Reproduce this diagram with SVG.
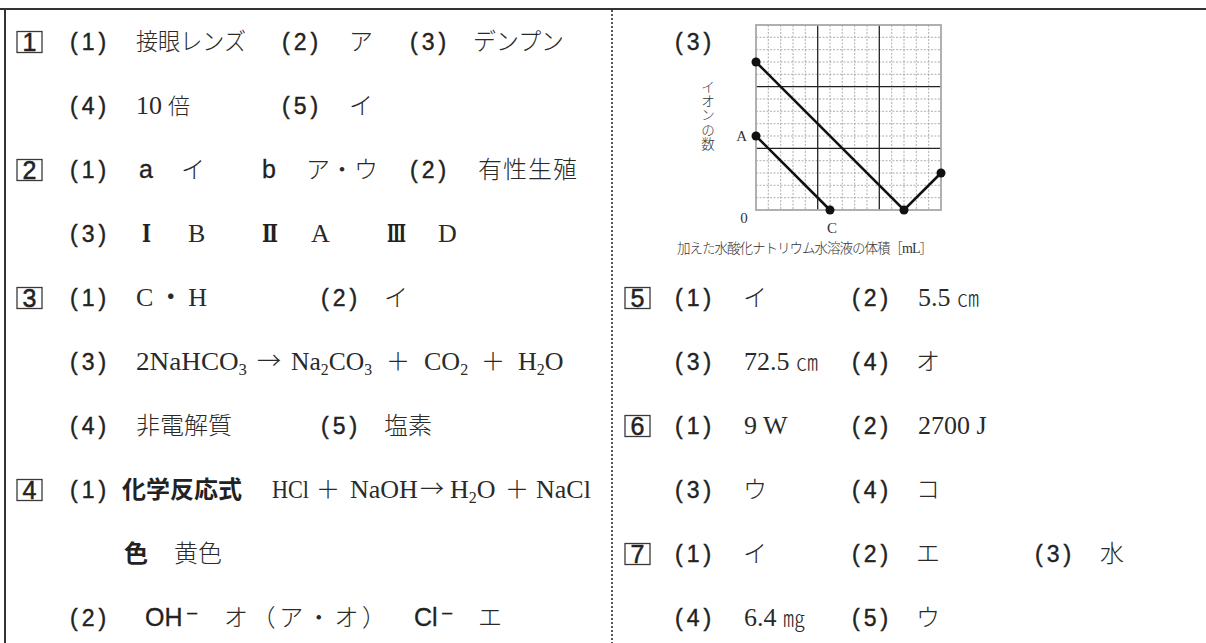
<svg xmlns="http://www.w3.org/2000/svg" width="1206" height="643" viewBox="0 0 1206 643">
<style>
.lab{font-family:"Liberation Sans",Arial,sans-serif;font-size:23px;letter-spacing:4px;fill:#222;stroke:#222;stroke-width:0.4px}
.jp{font-family:"Noto Sans CJK JP",sans-serif;font-size:24px;font-weight:300;fill:#2a2a2a}
.jb{font-family:"Noto Sans CJK JP",sans-serif;font-size:24px;font-weight:700;fill:#222}
.se{font-family:"Liberation Serif","Noto Sans CJK JP",serif;font-size:26px;fill:#2a2a2a}
.sub{font-size:16px}
.sa{font-family:"Liberation Sans","DejaVu Sans",sans-serif;font-size:25px;fill:#222;stroke:#222;stroke-width:0.3px}
.rn{font-family:"DejaVu Serif","Liberation Serif","Noto Sans CJK JP",serif;font-size:24px;font-weight:700;fill:#222}
.bx{fill:#fff;stroke:#3a3a3a;stroke-width:1.3}
.bn{font-family:"Liberation Sans",Arial,sans-serif;font-size:25px;fill:#222;stroke:#222;stroke-width:0.5px;text-anchor:middle}
.sm{font-family:"Liberation Serif","Noto Sans CJK JP",serif;font-size:15px;fill:#333}
.gj{font-family:"Noto Sans CJK JP",sans-serif;font-size:13.5px;font-weight:300;fill:#333}
.minor{stroke:#9a9a9a;stroke-width:0.8;stroke-dasharray:2 1.5;fill:none}
.major{stroke:#222;stroke-width:1.3;fill:none}
.data{stroke:#111;stroke-width:2.6;fill:none}
.dot{fill:#111}
</style>
<defs>
<g id="minorgrid">
<line class="minor" x1="768.3" y1="25" x2="768.3" y2="210"/><line class="minor" x1="780.7" y1="25" x2="780.7" y2="210"/><line class="minor" x1="793" y1="25" x2="793" y2="210"/><line class="minor" x1="805.3" y1="25" x2="805.3" y2="210"/>
<line class="minor" x1="830" y1="25" x2="830" y2="210"/><line class="minor" x1="842.3" y1="25" x2="842.3" y2="210"/><line class="minor" x1="854.7" y1="25" x2="854.7" y2="210"/><line class="minor" x1="867" y1="25" x2="867" y2="210"/>
<line class="minor" x1="891.7" y1="25" x2="891.7" y2="210"/><line class="minor" x1="904" y1="25" x2="904" y2="210"/><line class="minor" x1="916.3" y1="25" x2="916.3" y2="210"/><line class="minor" x1="928.7" y1="25" x2="928.7" y2="210"/>
<line class="minor" y1="37.3" x1="756" y2="37.3" x2="941"/><line class="minor" y1="49.7" x1="756" y2="49.7" x2="941"/><line class="minor" y1="62" x1="756" y2="62" x2="941"/><line class="minor" y1="74.3" x1="756" y2="74.3" x2="941"/>
<line class="minor" y1="99" x1="756" y2="99" x2="941"/><line class="minor" y1="111.3" x1="756" y2="111.3" x2="941"/><line class="minor" y1="123.7" x1="756" y2="123.7" x2="941"/><line class="minor" y1="136" x1="756" y2="136" x2="941"/>
<line class="minor" y1="160.7" x1="756" y2="160.7" x2="941"/><line class="minor" y1="173" x1="756" y2="173" x2="941"/><line class="minor" y1="185.3" x1="756" y2="185.3" x2="941"/><line class="minor" y1="197.7" x1="756" y2="197.7" x2="941"/>
</g>
</defs>
<rect width="1206" height="643" fill="#fff"/>
<g id="frame">
<line x1="0" y1="9" x2="1206" y2="9" stroke="#333" stroke-width="2"/>
<line x1="5" y1="8" x2="5" y2="643" stroke="#333" stroke-width="2"/>
<line x1="612" y1="10" x2="612" y2="643" stroke="#555" stroke-width="2" stroke-dasharray="2 2"/>
</g>
<g id="q1">
<rect class="bx" x="17" y="31.5" width="25" height="21"/><text class="bn" x="29.5" y="51">1</text>
<text class="lab" x="70" y="50">(1)</text><text class="jp" x="136" y="50" textLength="110" lengthAdjust="spacingAndGlyphs">接眼レンズ</text>
<text class="lab" x="282" y="50">(2)</text><text class="jp" x="349" y="50">ア</text>
<text class="lab" x="410" y="50">(3)</text><text class="jp" x="473" y="50" textLength="91" lengthAdjust="spacingAndGlyphs">デンプン</text>
<text class="lab" x="70" y="114">(4)</text><text class="se" x="136" y="114">10</text><text class="jp" x="168" y="114" style="font-size:22px">倍</text>
<text class="lab" x="282" y="114">(5)</text><text class="jp" x="349" y="114">イ</text>
</g>
<g id="q2">
<rect class="bx" x="17" y="159.5" width="25" height="21"/><text class="bn" x="29.5" y="179">2</text>
<text class="lab" x="70" y="178">(1)</text><text class="sa" x="139" y="178">a</text><text class="jp" x="181" y="178">イ</text>
<text class="sa" x="262" y="178">b</text><text class="jp" x="306" y="178">ア・ウ</text>
<text class="lab" x="410" y="178">(2)</text><text class="jp" x="478" y="178" textLength="99">有性生殖</text>
<text class="lab" x="70" y="242">(3)</text>
<text class="rn" x="142" y="242" textLength="9" lengthAdjust="spacingAndGlyphs">Ⅰ</text><text class="se" x="188" y="242">B</text>
<text class="rn" x="262" y="242" textLength="16" lengthAdjust="spacingAndGlyphs">Ⅱ</text><text class="se" x="311" y="242">A</text>
<text class="rn" x="387" y="242" textLength="19" lengthAdjust="spacingAndGlyphs">Ⅲ</text><text class="se" x="438" y="242">D</text>
</g>
<g id="q3">
<rect class="bx" x="17" y="287.5" width="25" height="21"/><text class="bn" x="29.5" y="307">3</text>
<text class="lab" x="70" y="306">(1)</text><text class="se" x="136" y="306" textLength="71" lengthAdjust="spacing">C・H</text>
<text class="lab" x="321" y="306">(2)</text><text class="jp" x="384" y="306">イ</text>
<text class="lab" x="70" y="370">(3)</text>
<text class="se" x="136" y="370" textLength="111" lengthAdjust="spacingAndGlyphs">2NaHCO<tspan class="sub" dy="5">3</tspan></text>
<text class="jp" x="257" y="369">→</text>
<text class="se" x="291" y="370" textLength="81" lengthAdjust="spacingAndGlyphs">Na<tspan class="sub" dy="5">2</tspan><tspan dy="-5">CO</tspan><tspan class="sub" dy="5">3</tspan></text>
<text class="jp" x="386" y="370">＋</text>
<text class="se" x="424" y="370">CO<tspan class="sub" dy="5">2</tspan></text>
<text class="jp" x="481" y="370">＋</text>
<text class="se" x="518" y="370">H<tspan class="sub" dy="5">2</tspan><tspan dy="-5">O</tspan></text>
<text class="lab" x="70" y="434">(4)</text><text class="jp" x="136" y="434">非電解質</text>
<text class="lab" x="321" y="434">(5)</text><text class="jp" x="384" y="434">塩素</text>
</g>
<g id="q4">
<rect class="bx" x="17" y="479.5" width="25" height="21"/><text class="bn" x="29.5" y="499">4</text>
<text class="lab" x="70" y="498">(1)</text><text class="jb" x="122" y="498">化学反応式</text>
<text class="se" x="272" y="498" textLength="37" lengthAdjust="spacingAndGlyphs">HCl</text><text class="jp" x="316" y="498">＋</text>
<text class="se" x="350" y="498">NaOH</text><text class="jp" x="420" y="497">→</text>
<text class="se" x="450" y="498">H<tspan class="sub" dy="5">2</tspan><tspan dy="-5">O</tspan></text>
<text class="jp" x="505" y="498">＋</text><text class="se" x="536" y="498">NaCl</text>
<text class="jb" x="124" y="562">色</text><text class="jp" x="174" y="562">黄色</text>
<text class="lab" x="70" y="626">(2)</text><text class="sa" x="145" y="626">OH<tspan dx="3">⁻</tspan></text>
<text class="jp" x="224" y="626" textLength="162" lengthAdjust="spacing">オ（ア・オ）</text>
<text class="sa" x="414" y="626">Cl<tspan dx="3">⁻</tspan></text><text class="jp" x="478" y="626">エ</text>
</g>
<g id="graph">
<text class="lab" x="675" y="50">(3)</text>
<use href="#minorgrid"/>
<line class="major" x1="817.7" y1="25" x2="817.7" y2="210"/>
<line class="major" x1="879.3" y1="25" x2="879.3" y2="210"/>
<line class="major" x1="756" y1="86.7" x2="941" y2="86.7"/>
<line class="major" x1="756" y1="148.3" x2="941" y2="148.3"/>
<rect x="756" y="25" width="185" height="185" fill="none" stroke="#a8a8a8" stroke-width="1.8"/>
<polyline class="data" points="756,62 904,210 941,173"/>
<line class="data" x1="756" y1="136" x2="830" y2="210"/>
<circle class="dot" cx="756" cy="62" r="4.5"/><circle class="dot" cx="904" cy="210" r="4.5"/><circle class="dot" cx="941" cy="173" r="4.5"/>
<circle class="dot" cx="756" cy="136" r="4.5"/><circle class="dot" cx="830" cy="210" r="4.5"/>
<text class="gj" x="708 708 708 708 708" y="92 106 120 135 149" text-anchor="middle">イオンの数</text>
<text class="sm" x="747" y="141" text-anchor="end">A</text>
<text class="sm" x="744" y="223" text-anchor="middle">0</text>
<text class="sm" x="832" y="233" text-anchor="middle">C</text>
<text class="gj" x="677" y="253" textLength="256" lengthAdjust="spacing">加えた水酸化ナトリウム水溶液の体積［<tspan class="sm" style="font-size:14px">mL</tspan>］</text>
</g>
<g id="q5">
<rect class="bx" x="625" y="287.5" width="25" height="21"/><text class="bn" x="637.5" y="307">5</text>
<text class="lab" x="675" y="306">(1)</text><text class="jp" x="743" y="306">イ</text>
<text class="lab" x="852" y="306">(2)</text><text class="se" x="918" y="306">5.5 <tspan class="jp" style="font-size:22px">㎝</tspan></text>
<text class="lab" x="675" y="370">(3)</text><text class="se" x="744" y="370">72.5 <tspan class="jp" style="font-size:22px">㎝</tspan></text>
<text class="lab" x="852" y="370">(4)</text><text class="jp" x="916" y="370">オ</text>
</g>
<g id="q6">
<rect class="bx" x="625" y="415.5" width="25" height="21"/><text class="bn" x="637.5" y="435">6</text>
<text class="lab" x="675" y="434">(1)</text><text class="se" x="744" y="434">9 W</text>
<text class="lab" x="852" y="434">(2)</text><text class="se" x="918" y="434">2700 J</text>
<text class="lab" x="675" y="498">(3)</text><text class="jp" x="743" y="498">ウ</text>
<text class="lab" x="852" y="498">(4)</text><text class="jp" x="916" y="498">コ</text>
</g>
<g id="q7">
<rect class="bx" x="625" y="543.5" width="25" height="21"/><text class="bn" x="637.5" y="563">7</text>
<text class="lab" x="675" y="562">(1)</text><text class="jp" x="743" y="562">イ</text>
<text class="lab" x="852" y="562">(2)</text><text class="jp" x="916" y="562">エ</text>
<text class="lab" x="1035" y="562">(3)</text><text class="jp" x="1100" y="562">水</text>
<text class="lab" x="675" y="626">(4)</text><text class="se" x="744" y="626">6.4 <tspan class="jp" style="font-size:22px">㎎</tspan></text>
<text class="lab" x="852" y="626">(5)</text><text class="jp" x="916" y="626">ウ</text>
</g>
</svg>
